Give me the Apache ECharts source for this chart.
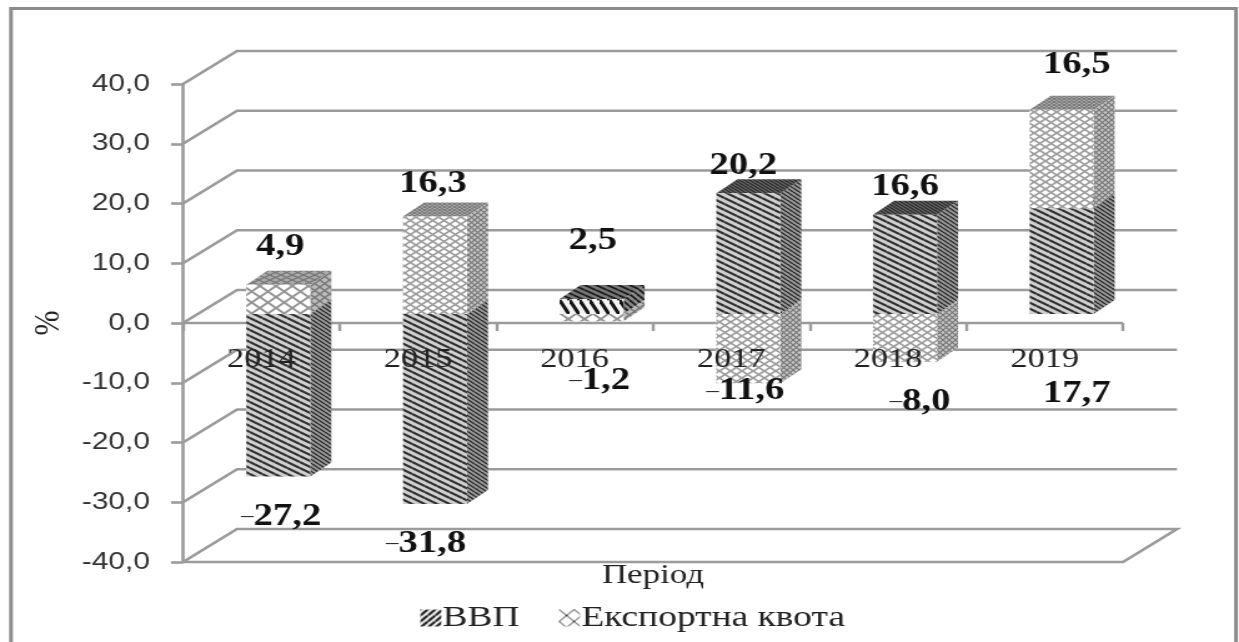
<!DOCTYPE html>
<html>
<head>
<meta charset="utf-8">
<style>
html,body{margin:0;padding:0;background:#fff;overflow:hidden}
#c{width:992px;height:642px;transform:scaleX(1.24899);transform-origin:0 0;filter:blur(0.45px)}
</style>
<script src="https://cdn.jsdelivr.net/npm/echarts@6/dist/echarts.min.js"></script>
</head>
<body>
<div id="c"></div>
<script>
const categories = ['2014','2015','2016','2017','2018','2019'];
const gdp = [-27.2,-31.8,2.5,20.2,16.6,17.7];
const exportQuota = [4.9,16.3,-1.2,-11.6,-8.0,16.5];
const valueTicks = [-40,-30,-20,-10,0,10,20,30,40];
const gdpName = 'ВВП';
const quotaName = 'Експортна квота';
const xTitle = 'Період';
const yTitle = '%';
// hand-placed data labels of the source: offset from the end of each bar segment (reference px)
const gdpLabelOffset = [[3,38],[-9,38],[1,-60],[-5,-29],[0,-30],[15,184]];
const quotaLabelOffset = [[2,-40],[-2,-35],[8,58],[-3,6],[15,38],[15,-47]];

const S = 1239/992;
const X = v => v/S;
const WALL_DX = X(54), WALL_DY = 33;      // back wall depth
const BAR_SHIFT_X = X(17), BAR_SHIFT_Y = 9; // bar front face relative to axis plane
const LABEL_SHIFT_Y = 7;
const BAR_DX = X(21), BAR_DY = 14;        // bar depth
const BAR_W = X(64);
const GRID_COLOR = '#9b9b9b';

function tile(w,h,bg,lines,lw,cross){
  const c=document.createElement('canvas');c.width=w;c.height=h;
  const g=c.getContext('2d');g.fillStyle=bg;g.fillRect(0,0,w,h);
  g.strokeStyle=lines;g.lineWidth=lw;
  for(let k=-1;k<=1;k++){
    g.beginPath();g.moveTo(0,k*h);g.lineTo(w,(k+1)*h);g.stroke();
    if(cross){g.beginPath();g.moveTo(0,(k+1)*h);g.lineTo(w,k*h);g.stroke();}
  }
  return {image:c,repeat:'repeat'};
}
const P = {
  gdp:{
    front:tile(10,6,'#cfcfcf','#303030',2.1),
    side:tile(5,4,'#999','#262626',1.3),
    top:tile(4,3,'#666','#2a2a2a',1.2)
  },
  gdpShort:{
    front:tile(8,15,'#f4f4f4','#151515',3),
    side:tile(6,6,'#888','#1c1c1c',1.8),
    top:tile(9,5,'#777','#1c1c1c',1.8)
  },
  quota:{
    front:tile(9,7,'#ffffff','#9c9c9c',1.7,true),
    side:tile(5,5,'#c4c4c4','#777',1.2,true),
    top:tile(4,3,'#aaa','#777',1,true)
  },
  quotaShort:{
    front:tile(13,11,'#ffffff','#959595',2,true),
    side:tile(8,7,'#bbb','#777',1.4,true),
    top:tile(9,5,'#aaa','#777',1.2,true)
  }
};
// legend icon: stripes rise to the right
const legendGdpIcon = (function(){const c=document.createElement('canvas');c.width=6;c.height=6;const g=c.getContext('2d');g.fillStyle='#fff';g.fillRect(0,0,6,6);g.strokeStyle='#111';g.lineWidth=2.2;for(let k=-1;k<=1;k++){g.beginPath();g.moveTo(0,(k+1)*6);g.lineTo(6,k*6);g.stroke();}return{image:c,repeat:'repeat'};})();
const legendQuotaIcon = tile(12,12,'#fff','#333',1,true);

// stacked segments: positive and negative values stack separately
const posBase = categories.map(()=>0), negBase = categories.map(()=>0);
function segments(values){
  return values.map((v,i)=>{
    const base = v>=0?posBase:negBase;
    const start = base[i], end = start+v;
    base[i]=end;
    return [i,start,end,v];
  });
}
const gdpSeg = segments(gdp), quotaSeg = segments(exportQuota);

function poly(points,fill,z2){
  return {type:'polygon',z2:z2,shape:{points:points},style:{fill:fill,stroke:null}};
}
function barRender(kind,offsets){
  return function(params,api){
    const i=api.value(0), start=api.value(1), end=api.value(2), v=api.value(3);
    const c0=api.coord([i,start]), c1=api.coord([i,end]);
    const cx=c0[0]+BAR_SHIFT_X;
    const xl=cx-BAR_W/2, xr=cx+BAR_W/2;
    const y0=c0[1]-BAR_SHIFT_Y, y1=c1[1]-BAR_SHIFT_Y;
    const yt=Math.min(y0,y1), yb=Math.max(y0,y1);
    const short=(yb-yt)<40;
    const pat=P[kind+(short?'Short':'')];
    const ch=[];
    ch.push(poly([[xr,yt],[xr+BAR_DX,yt-BAR_DY],[xr+BAR_DX,yb-BAR_DY],[xr,yb]],pat.side,1));
    if(v>=0) ch.push(poly([[xl,yt],[xl+BAR_DX,yt-BAR_DY],[xr+BAR_DX,yt-BAR_DY],[xr,yt]],pat.top,2));
    ch.push(poly([[xl,yt],[xr,yt],[xr,yb],[xl,yb]],pat.front,3));
    const off=offsets[i];
    const txt=Math.abs(v).toFixed(1).replace('.',',');
    ch.push({type:'text',z2:50,x:cx+X(off[0]),y:c1[1]-LABEL_SHIFT_Y+off[1],
      style:{text:(v<0?'{m|–}':'')+'{b|'+txt+'}',align:'center',verticalAlign:'middle',
        rich:{m:{fontFamily:'Liberation Serif',fontSize:20,fill:'#222'},
              b:{fontFamily:'Liberation Serif',fontWeight:'bold',fontSize:31,fill:'#111'}}}});
    return {type:'group',children:ch};
  };
}
function gridRender(params,api){
  const v=api.value(1);
  const cs=params.coordSys;
  const x0=cs.x, x1=cs.x+cs.width;
  const y=api.coord([0,v])[1];
  const ch=[];
  const ls={stroke:GRID_COLOR,lineWidth:2.6,fill:null,lineJoin:'miter'};
  const pts=[[x0,y],[x0+WALL_DX,y-WALL_DY],[x1+WALL_DX,y-WALL_DY]];
  if(v===valueTicks[0]) pts.push([x1,y],[x0,y]);
  ch.push({type:'polyline',shape:{points:pts},style:ls});
  if(v===0) ch.push({type:'line',shape:{x1:x0,y1:y,x2:x1,y2:y},style:{stroke:GRID_COLOR,lineWidth:2.6}});
  return {type:'group',children:ch};
}

const chart=echarts.init(document.getElementById('c'),null,{renderer:'canvas',width:992,height:642});
chart.setOption({
  animation:false,
  backgroundColor:'#fff',
  graphic:[{type:'polyline',z:100,shape:{points:[[X(11),650],[X(11),8.5],[X(1236),8.5],[X(1236),650]]},
    style:{stroke:'#8c8c8c',lineWidth:3,fill:null}}],
  grid:{left:X(183),width:X(940),top:84,height:478,outerBoundsMode:'none'},
  legend:{left:X(414),top:598,itemWidth:X(21),itemHeight:17,itemGap:X(39.5),
    textStyle:{fontFamily:'Liberation Serif',fontSize:30,color:'#222',padding:[0,0,0,-4]},
    data:[{name:gdpName,icon:'rect',itemStyle:{color:legendGdpIcon}},
          {name:quotaName,icon:'rect',itemStyle:{color:legendQuotaIcon}}]},
  xAxis:{type:'category',data:categories,z:10,
    name:xTitle,nameLocation:'middle',nameGap:0,nameMoveOverlap:false,
    nameTextStyle:{fontFamily:'Liberation Serif',fontSize:28,color:'#222'},
    axisLine:{onZero:true,lineStyle:{color:'rgba(0,0,0,0)'}},
    axisTick:{show:true,alignWithLabel:false,length:8,lineStyle:{color:GRID_COLOR,width:2.4}},
    axisLabel:{interval:0,margin:-216,fontFamily:'Liberation Serif',fontSize:27.5,color:'#222'}},
  yAxis:{type:'value',min:-40,max:40,interval:10,
    name:yTitle,nameLocation:'middle',nameGap:X(100),nameRotate:90,
    nameTextStyle:{fontFamily:'Liberation Serif',fontSize:30,color:'#222'},
    splitLine:{show:false},
    axisLine:{show:true,lineStyle:{color:GRID_COLOR,width:2.6}},
    axisTick:{show:true,length:X(12),lineStyle:{color:GRID_COLOR,width:2.6}},
    axisLabel:{margin:X(33),fontFamily:'Liberation Sans',fontSize:24,color:'#333',
      formatter:v=>v.toFixed(1).replace('.',',')}},
  series:[
    {type:'custom',name:'grid',silent:true,z:1,renderItem:gridRender,
      encode:{x:0,y:1},data:valueTicks.map(v=>[0,v])},
    {type:'custom',name:gdpName,z:3,renderItem:barRender('gdp',gdpLabelOffset),
      itemStyle:{color:legendGdpIcon},encode:{x:0,y:2},data:gdpSeg},
    {type:'custom',name:quotaName,z:4,renderItem:barRender('quota',quotaLabelOffset),
      itemStyle:{color:legendQuotaIcon},encode:{x:0,y:2},data:quotaSeg}
  ]
});
</script>
</body>
</html>
